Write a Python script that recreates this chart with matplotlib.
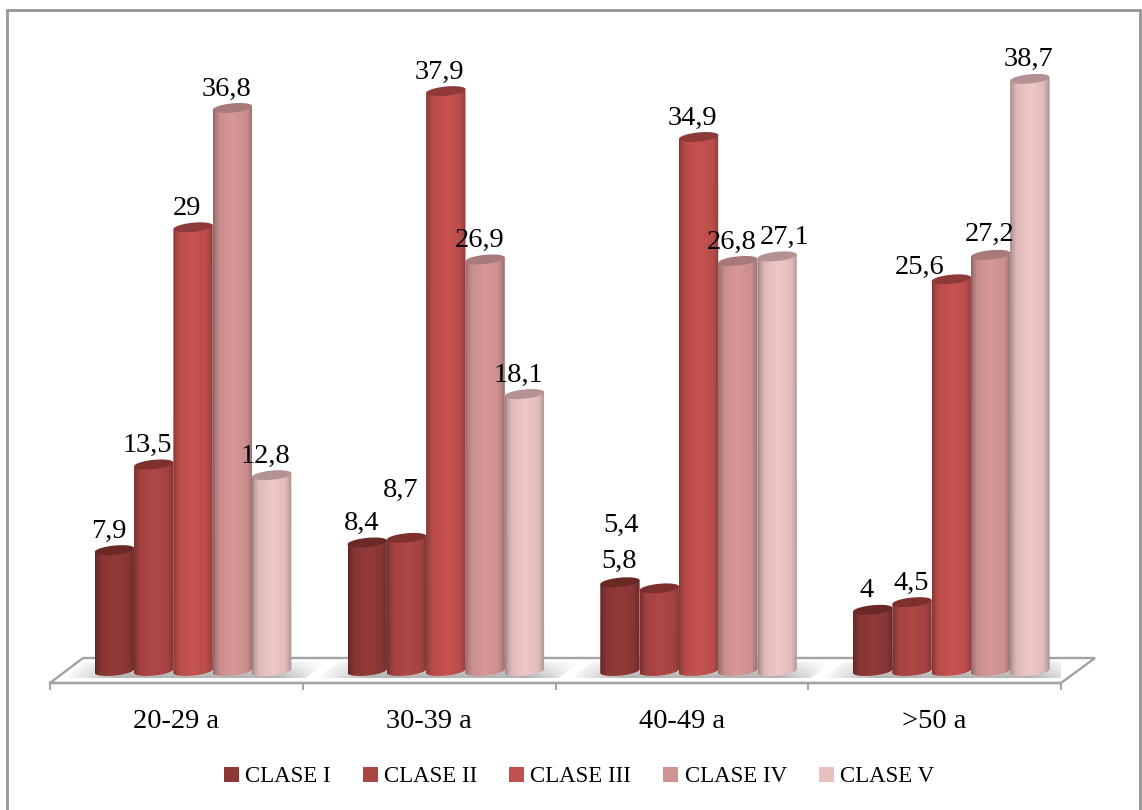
import numpy as np
import matplotlib
matplotlib.use("Agg")
import matplotlib.pyplot as plt
from matplotlib.lines import Line2D
from matplotlib.patches import Patch, Polygon

plt.rcParams["font.family"] = ["Liberation Serif", "DejaVu Serif"]

# Percentage of each class within every age group
age_groups = ["20-29 a", "30-39 a", "40-49 a", ">50 a"]
class_names = ["CLASE I", "CLASE II", "CLASE III", "CLASE IV", "CLASE V"]
clase_1 = [7.9, 8.4, 5.8, 4]
clase_2 = [13.5, 8.7, 5.4, 4.5]
clase_3 = [29, 37.9, 34.9, 25.6]
clase_4 = [36.8, 26.9, 26.8, 27.2]
clase_5 = [12.8, 18.1, 27.1, 38.7]
series = [clase_1, clase_2, clase_3, clase_4, clase_5]

# Styling
class_colors = ["#8c3836", "#a94543", "#c0504d", "#d09392", "#e6c1c0"]
cap_colors = ["#6a2827", "#7d302e", "#8e3a38", "#a87a79", "#b49293"]
grid_gray = "#a3a3a3"

W, H = 1142, 810
PX_X = 252.75     # pixels per age group
PX_Y = 15.3       # pixels per percentage point
AX_LEFT, AX_RIGHT = 50, 1061
AX_BOTTOM_PX, AX_TOP_PX = 683, 20
BASE_PX = 671     # pixel row of the value zero

fig = plt.figure(figsize=(W / 100, H / 100), dpi=100, facecolor="white")
ax = fig.add_axes([AX_LEFT / W, 1 - AX_BOTTOM_PX / H,
                   (AX_RIGHT - AX_LEFT) / W, (AX_BOTTOM_PX - AX_TOP_PX) / H])
ax.patch.set_alpha(0)

y_min = -(AX_BOTTOM_PX - BASE_PX) / PX_Y
y_max = (BASE_PX - AX_TOP_PX) / PX_Y


def dx(px):
    return px / PX_X


def dy(px):
    return px / PX_Y


# Perspective floor
BACK = dy(BASE_PX - 658)
floor_x = [0, dx(33), dx(1095 - 50), 4]
floor_y = [y_min, BACK, BACK, y_min]
ax.add_patch(Polygon(np.column_stack([floor_x, floor_y]), closed=True,
                     facecolor="white", edgecolor=grid_gray, linewidth=1.7,
                     zorder=1, clip_on=False, joinstyle="miter"))

# Cylinder geometry
bar_w = dx(39.3)
first_offset = dx(44.8)
cap_a, cap_b, cap_tilt = 19.7, 4.6, 1.9
shade_pos = [0.0, 0.04, 0.16, 0.5, 0.84, 0.96, 1.0]
shade_val = [0.66, 0.80, 0.96, 1.04, 0.97, 0.82, 0.70]
shade = np.interp(np.linspace(0, 1, 80), shade_pos, shade_val)


def ellipse_arc(xc, yc, t):
    """Tilted ellipse outline around a data point, sized in pixels."""
    return (xc + dx(cap_a * np.cos(t)),
            yc + dy(cap_b * np.sin(t) + cap_tilt * np.cos(t)))


# Soft shadow on the floor around each group, stronger towards the front
horizontal = np.interp(np.linspace(0, 1, 200), [0, 0.2, 0.8, 1], [0, 0.6, 0.6, 0])
vertical = np.linspace(0.3, 1.0, 24)
shadow_rgba = np.zeros((24, 200, 4))
shadow_rgba[..., :3] = 0.5
shadow_rgba[..., 3] = vertical[:, None] * horizontal[None, :]
for g in range(len(age_groups)):
    left = g + first_offset - dx(30)
    right = g + first_offset + 5 * bar_w + dx(36)
    top = dy(BASE_PX - 662)
    bottom = dy(BASE_PX - 678)
    im = ax.imshow(shadow_rgba, extent=(left, right, bottom, top), aspect="auto",
                   interpolation="bilinear", zorder=1.5)
    im.set_clip_path(Polygon([(left, bottom), (left + dx(22), top),
                              (right, top), (right - dx(22), bottom)],
                             transform=ax.transData))

# Cylinders, drawn left to right so each one overlaps its neighbour
t_low = np.linspace(np.pi, 2 * np.pi, 40)
t_all = np.linspace(0, 2 * np.pi, 80)
for s, values in enumerate(series):
    rgb = np.array(matplotlib.colors.to_rgb(class_colors[s]))
    strip = np.clip(shade[None, :, None] * rgb[None, None, :], 0, 1)
    for g, v in enumerate(values):
        x0 = g + first_offset + s * bar_w
        xc = x0 + bar_w / 2
        bx, by = ellipse_arc(xc, 0, t_low)
        outline = np.column_stack([
            np.r_[bx, x0 + bar_w, x0],
            np.r_[by, v + dy(cap_tilt), v - dy(cap_tilt)],
        ])
        z = 2 + s * 0.1
        body = ax.imshow(strip, extent=(x0, x0 + bar_w, by.min(), v + dy(cap_tilt)),
                         aspect="auto", interpolation="bilinear", zorder=z)
        body.set_clip_path(Polygon(outline, transform=ax.transData))
        cx, cy = ellipse_arc(xc, v, t_all)
        ax.fill(cx, cy, color=cap_colors[s], linewidth=0, zorder=z + 0.01)

# Value labels, offset in pixels from the top of each cylinder
label_offset = (-6, 19)
label_exceptions = {
    (1, 1): (-6, 47),
    (2, 0): (-0.5, 21),
    (2, 1): (-38.5, 63),
    (2, 4): (7.5, 19),
    (3, 1): (-0.5, 19),
    (3, 2): (-31.5, 12),
    (3, 3): (-0.5, 20),
    (3, 4): (-1.5, 19),
}
for s, values in enumerate(series):
    for g, v in enumerate(values):
        off_x, off_y = label_exceptions.get((g, s), label_offset)
        xc = g + first_offset + (s + 0.5) * bar_w
        ax.annotate(f"{v:g}".replace(".", ","), (xc, v), xytext=(off_x, off_y),
                    textcoords="offset pixels", ha="center", va="center",
                    fontsize=20.5, color="black", zorder=5, annotation_clip=False)

# Axis: group boundaries as ticks, age groups centred between them
ax.set_xlim(0, (AX_RIGHT - AX_LEFT) / PX_X)
ax.set_ylim(y_min, y_max)
ax.set_xticks(range(len(age_groups) + 1))
ax.set_xticklabels([])
ax.set_xticks(np.arange(len(age_groups)) + 0.5, age_groups, minor=True)
ax.tick_params(axis="x", which="major", length=5, width=1.4, color=grid_gray)
ax.tick_params(axis="x", which="minor", length=0, pad=19, labelsize=20.5)
ax.set_yticks([])
for side in ("left", "top", "right"):
    ax.spines[side].set_visible(False)
ax.spines["bottom"].set_color(grid_gray)
ax.spines["bottom"].set_linewidth(1.7)

# Legend below the axis
handles = [Patch(facecolor=c, edgecolor="none") for c in class_colors]
fig.legend(handles, class_names, ncol=5, frameon=False, fontsize=16.5,
           loc="center", bbox_to_anchor=(579 / W, 1 - 777 / H),
           handlelength=0.65, handleheight=0.65, handletextpad=0.27,
           columnspacing=1.405, borderpad=0, borderaxespad=0)

# Open frame around the chart
frame_x = np.array([7, 7, 1140, 1140]) / W
frame_y = 1 - np.array([H, 10, 10, H]) / H
fig.add_artist(Line2D(frame_x, frame_y, color="#959595", linewidth=2.0,
                      solid_joinstyle="miter"))

fig.savefig("out.png", dpi=100)
